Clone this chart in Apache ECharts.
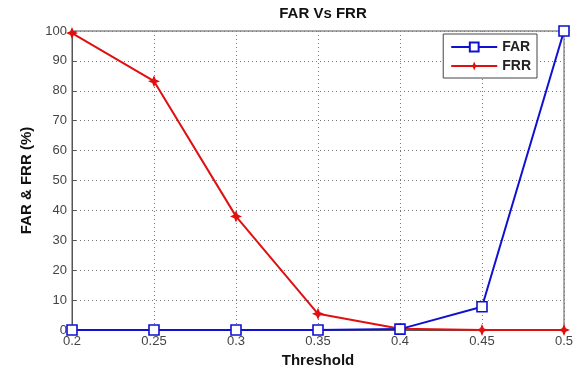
<!DOCTYPE html>
<html><head><meta charset="utf-8">
<script src="https://cdn.jsdelivr.net/npm/echarts@6/dist/echarts.min.js"></script>
<style>html,body{margin:0;padding:0;background:#fff}#c{width:581px;height:374px}</style>
</head><body><div id="c"></div>
<script>
const thresholds = ['0.2','0.25','0.3','0.35','0.4','0.45','0.5'];
const farValues = [0, 0, 0, 0, 0.3, 7.8, 100];
const frrValues = [99.3, 83.2, 38, 5.4, 0.4, 0, 0];
const yTicks = [0,10,20,30,40,50,60,70,80,90,100];

const star = 'path://M0,-10 L3,-3 L10,0 L3,3 L0,10 L-3,3 L-10,0 L-3,-3 Z';
const chart = echarts.init(document.getElementById('c'));
chart.setOption({
  animation:false,
  backgroundColor:'#fff',
  title:{text:'FAR Vs FRR',left:318,top:1,textAlign:'center',textStyle:{fontFamily:'Liberation Sans',fontSize:15,fontWeight:'bold',color:'#111'}},
  grid:{left:72,right:17,top:31,bottom:44,show:true,borderColor:'#555',borderWidth:1,outerBoundsMode:'none',containLabel:false},
  legend:{right:44,top:34,orient:'vertical',itemWidth:46,itemHeight:11,itemGap:5,padding:[6,6,5,7],borderColor:'#444',borderWidth:1,backgroundColor:'#fff',
    textStyle:{fontFamily:'Liberation Sans',fontSize:14,fontWeight:'bold',color:'#222'},data:['FAR','FRR']},
  xAxis:{type:'category',data:thresholds,boundaryGap:false,
    name:'Threshold',nameLocation:'middle',nameGap:23,nameTextStyle:{fontFamily:'Liberation Sans',fontSize:15,fontWeight:'bold',color:'#111'},
    axisLine:{lineStyle:{color:'#555'}},axisTick:{inside:true,length:4,lineStyle:{color:'#555'}},
    axisLabel:{margin:5,fontFamily:'Liberation Sans',fontSize:13,color:'#444'},
    splitLine:{show:true,lineStyle:{type:[1,3],color:'#777'}}},
  yAxis:{type:'value',min:0,max:100,interval:10,
    name:'FAR & FRR (%)',nameLocation:'middle',nameGap:37,nameTextStyle:{fontFamily:'Liberation Sans',fontSize:15,fontWeight:'bold',color:'#111'},
    axisLine:{show:true,lineStyle:{color:'#555'}},axisTick:{show:true,inside:true,length:4,lineStyle:{color:'#555'}},
    axisLabel:{margin:5,fontFamily:'Liberation Sans',fontSize:13,color:'#444',formatter:v=>yTicks.includes(v)?String(v):''},
    splitLine:{show:true,lineStyle:{type:[1,3],color:'#777'}}},
  series:[
    {name:'FAR',type:'line',data:farValues,color:'#1010d0',symbol:'rect',symbolSize:10,
      lineStyle:{width:2,color:'#1010d0'},itemStyle:{color:'#fff',borderColor:'#1010d0',borderWidth:1.6},z:3},
    {name:'FRR',type:'line',data:frrValues,color:'#e01010',symbol:star,symbolSize:12,
      lineStyle:{width:2,color:'#e01010'},itemStyle:{color:'#e01010'},z:2}
  ]
});
</script></body></html>
